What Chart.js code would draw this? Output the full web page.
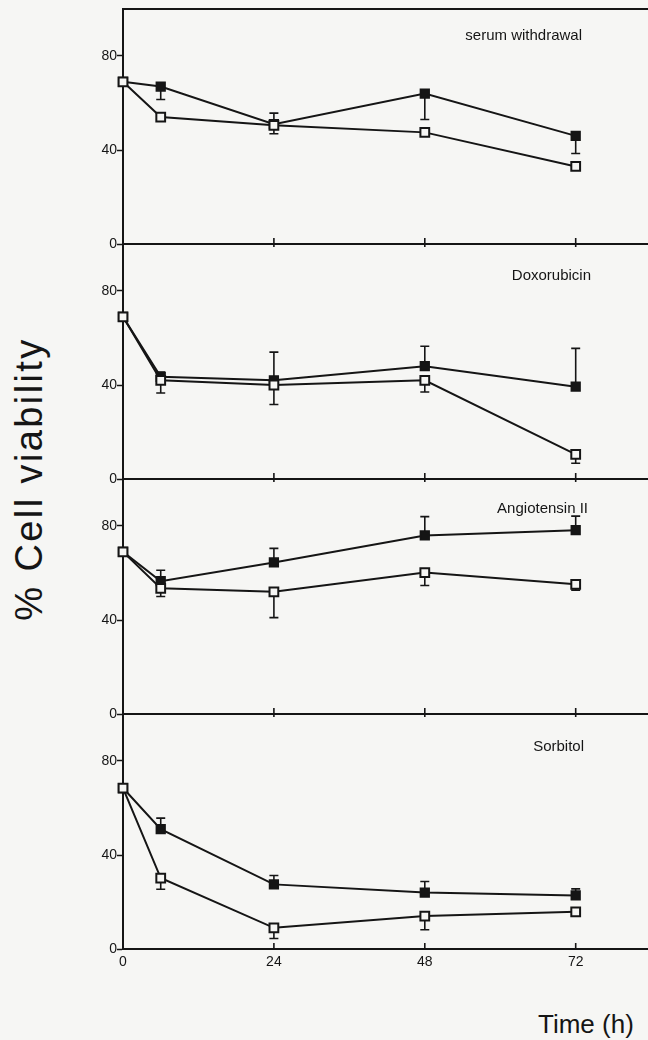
<!DOCTYPE html>
<html>
<head>
<meta charset="utf-8">
<script src="https://cdn.jsdelivr.net/npm/chart.js@4.4.1/dist/chart.umd.min.js"></script>
<style>
  html, body { margin: 0; padding: 0; background: #f6f6f4; }
  body { width: 648px; height: 1040px; position: relative; overflow: hidden;
         font-family: "Liberation Sans", Arial, sans-serif; color: #151515; }
  #ytitle { position: absolute; left: 29px; top: 479px; white-space: nowrap;
            font-size: 38px; line-height: 38px; letter-spacing: 2.4px;
            transform: translate(-50%, -50%) rotate(-90deg); }
  #xtitle { position: absolute; left: 538px; top: 1011px; white-space: nowrap;
            font-size: 26px; line-height: 26px; }
</style>
</head>
<body>
<div id="ytitle">% Cell viability</div>
<div id="xtitle">Time (h)</div>
<script>
// ---------------- data ----------------
const hours = [0, 6, 24, 48, 72];
const xTicks = [0, 24, 48, 72];
const yTicks = [0, 40, 80];
const panelTitles = ['serum withdrawal', 'Doxorubicin', 'Angiotensin II', 'Sorbitol'];

// error values: magnitude of the one-sided bar; positive = drawn upward, negative = drawn downward
const serumFilled    = [69, 67, 51, 64, 46];
const serumFilledErr = [0, -5.5, 4.7, -11, -7.5];
const serumOpen      = [69, 54, 50.5, 47.5, 33];
const serumOpenErr   = [0, 0, -3.6, 0, 0];

const doxoFilled     = [69, 43.5, 42, 48, 39.3];
const doxoFilledErr  = [0, 2, 12, 8.5, 16.3];
const doxoOpen       = [69, 42, 40, 42, 10.5];
const doxoOpenErr    = [0, -5.4, -8.3, -5, -3.8];

const angioFilled    = [69, 56.5, 64.5, 76, 78.2];
const angioFilledErr = [0, 4.7, 6, 8, 6];
const angioOpen      = [69, 53.5, 52, 60.2, 55.2];
const angioOpenErr   = [0, -3.5, -11, -5.5, -2.5];

const sorbFilled     = [68.5, 51, 27.5, 24, 22.8];
const sorbFilledErr  = [0, 4.7, 3.8, 4.7, 2.8];
const sorbOpen       = [68.5, 30.2, 9, 14, 15.8];
const sorbOpenErr    = [0, -4.8, -4.5, -5.8, 0];

// ---------------- layout / style ----------------
const PLOT_LEFT = 123, PANEL_TOP = 9, PANEL_H = 235, PAD = 10, BOTTOM_EXTRA = 40;
const X_MIN = 0, X_MAX = 83.5, Y_MIN = 0, Y_MAX = 100;
const INK = '#151515', PAPER = '#f6f6f4';
const FONT = '"Liberation Sans", Arial, sans-serif';
const titleRight = [582, 591, 588, 584];
const titleBaseline = [31, 36, 34, 37];

const panels = [
  { title: panelTitles[0], filled: serumFilled, filledErr: serumFilledErr, open: serumOpen, openErr: serumOpenErr },
  { title: panelTitles[1], filled: doxoFilled,  filledErr: doxoFilledErr,  open: doxoOpen,  openErr: doxoOpenErr },
  { title: panelTitles[2], filled: angioFilled, filledErr: angioFilledErr, open: angioOpen, openErr: angioOpenErr },
  { title: panelTitles[3], filled: sorbFilled,  filledErr: sorbFilledErr,  open: sorbOpen,  openErr: sorbOpenErr }
];

const toPoints = vals => hours.map((h, j) => ({ x: h, y: vals[j] }));

const panelDeco = {
  id: 'panelDeco',
  beforeDatasetsDraw(chart) {
    const ctx = chart.ctx, xs = chart.scales.x, ys = chart.scales.y;
    ctx.save();
    ctx.strokeStyle = INK;
    ctx.lineWidth = 1.6;
    chart.data.datasets.forEach(ds => {
      ds.err.forEach((e, j) => {
        if (!e) return;
        const px = xs.getPixelForValue(ds.data[j].x);
        const p0 = ys.getPixelForValue(ds.data[j].y);
        const p1 = ys.getPixelForValue(ds.data[j].y + e);
        ctx.beginPath();
        ctx.moveTo(px, p0); ctx.lineTo(px, p1);
        ctx.moveTo(px - 4.5, p1); ctx.lineTo(px + 4.5, p1);
        ctx.stroke();
      });
    });
    ctx.restore();
  },
  afterDraw(chart, args, opts) {
    const ctx = chart.ctx, xs = chart.scales.x, ys = chart.scales.y;
    const area = chart.chartArea;
    ctx.save();
    ctx.strokeStyle = INK;
    if (opts.index === 0) {
      ctx.lineWidth = 2;
      ctx.beginPath();
      ctx.moveTo(area.left - 1, area.top); ctx.lineTo(area.right, area.top);
      ctx.stroke();
    }
    // inward tick marks on the time axis
    ctx.lineWidth = 1.6;
    const y0 = ys.getPixelForValue(Y_MIN);
    xTicks.forEach(t => {
      if (t === X_MIN) return;
      const px = xs.getPixelForValue(t);
      ctx.beginPath();
      ctx.moveTo(px, y0 - 6); ctx.lineTo(px, y0 + (opts.last ? 0 : 3));
      ctx.stroke();
    });
    // panel title
    ctx.fillStyle = INK;
    ctx.font = '15px ' + FONT;
    ctx.textAlign = 'right';
    ctx.textBaseline = 'alphabetic';
    ctx.fillText(opts.title, opts.titleRight, area.top + opts.titleBaseline);
    ctx.restore();
  }
};

panels.forEach((p, i) => {
  const last = i === panels.length - 1;
  const h = PAD + PANEL_H + (last ? BOTTOM_EXTRA : PAD);
  const cv = document.createElement('canvas');
  cv.width = 648; cv.height = h;
  cv.style.cssText = `position:absolute;left:0;top:${PANEL_TOP + i * PANEL_H - PAD}px;width:648px;height:${h}px;`;
  document.body.appendChild(cv);

  new Chart(cv, {
    type: 'line',
    data: {
      datasets: [
        { label: 'open', data: toPoints(p.open), err: p.openErr,
          borderColor: INK, borderWidth: 2, tension: 0, fill: false,
          pointStyle: 'rect', pointRadius: 6.2, pointBorderWidth: 2,
          pointBackgroundColor: PAPER, pointBorderColor: INK, clip: false },
        { label: 'filled', data: toPoints(p.filled), err: p.filledErr,
          borderColor: INK, borderWidth: 2, tension: 0, fill: false,
          pointStyle: 'rect', pointRadius: 6.2, pointBorderWidth: 1.5,
          pointBackgroundColor: INK, pointBorderColor: INK, clip: false }
      ]
    },
    options: {
      responsive: false,
      devicePixelRatio: 1,
      animation: false,
      events: [],
      layout: { autoPadding: false, padding: { top: PAD, left: 0, right: 0, bottom: 0 } },
      plugins: {
        legend: { display: false },
        tooltip: { enabled: false },
        panelDeco: { index: i, last: last, title: p.title,
                     titleRight: titleRight[i], titleBaseline: titleBaseline[i] }
      },
      scales: {
        x: {
          type: 'linear', min: X_MIN, max: X_MAX,
          afterBuildTicks: s => { s.ticks = xTicks.map(v => ({ value: v })); },
          afterFit: s => { s.height = last ? BOTTOM_EXTRA : PAD; },
          ticks: { display: last, color: INK, padding: 5, maxRotation: 0,
                   font: { family: FONT, size: 14 } },
          grid: { drawOnChartArea: false, drawTicks: false },
          border: { display: true, color: INK, width: 2 }
        },
        y: {
          type: 'linear', min: Y_MIN, max: Y_MAX,
          afterBuildTicks: s => { s.ticks = yTicks.map(v => ({ value: v })); },
          afterFit: s => { s.width = PLOT_LEFT; },
          ticks: { color: INK, padding: 0, font: { family: FONT, size: 14 } },
          grid: { drawOnChartArea: false, drawTicks: true, tickLength: 6,
                  tickColor: INK, tickWidth: 1.5 },
          border: { display: true, color: INK, width: 2 }
        }
      }
    },
    plugins: [panelDeco]
  });
});
</script>
</body>
</html>
